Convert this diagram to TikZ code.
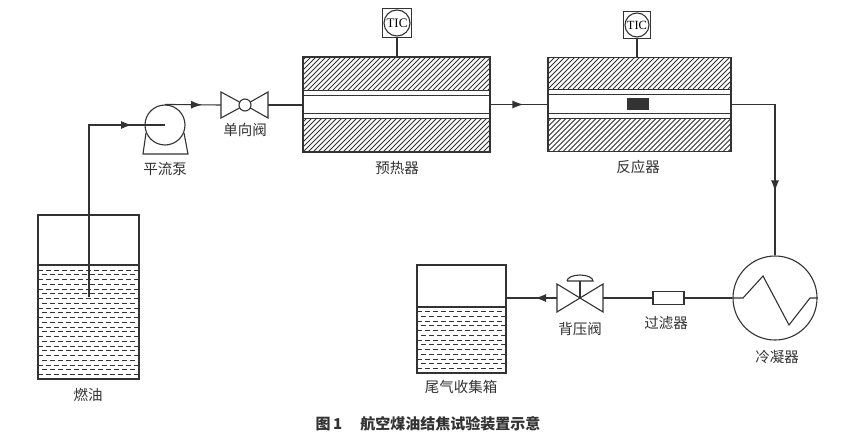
\documentclass[tikz,border=0pt]{standalone}
\usepackage{fontspec}
\newfontfamily\cjk{Noto Sans CJK SC}
\setmainfont{Liberation Serif}
\usetikzlibrary{arrows.meta,decorations.markings,calc}
\definecolor{ink}{HTML}{333333}
\tikzset{
  ln/.style={draw=ink,line width=1.1pt},
  hatch/.style={draw=ink,line width=0.8pt},
  lbl/.style={font=\cjk\fontsize{14.5}{14.5}\selectfont,text=ink,inner sep=0pt},
  arr at/.style={postaction={decorate},decoration={markings,mark=at position #1 with {\arrow[ink]{Latex[length=11pt,width=8pt]}}}},
  dashrow/.style={draw=ink,line width=1pt,dash pattern=on 5pt off 3pt}
}
\newcommand\hatchbox[4]{%
  \begin{scope}
    \clip (#1,#2) rectangle (#3,#4);
    \foreach \i in {0,5,...,260} \draw[hatch] ({#1-50+\i},#4) -- ++(50,-50);
  \end{scope}}
\begin{document}
\begin{tikzpicture}[x=1pt,y=-1pt]
\useasboundingbox[fill=white] (0,0) rectangle (853,444);

% ---------- fuel tank ----------
\node[ln,minimum width=101pt,minimum height=164pt,inner sep=0pt] (fuel) at (88.5,297) {};
\begin{scope}
  \clip (38.5,265) rectangle (138.5,378.5);
  \foreach \k in {0,...,22} {
    \pgfmathsetmacro\yy{270+\k*4.75}
    \pgfmathsetmacro\ph{mod(\k,2)*4}
    \draw[dashrow,dash phase=\ph pt] (38,\yy) -- (139,\yy);
  }
\end{scope}
\draw[ln] (38,265) -- (139,265);
\node[lbl] at (88,395) {燃油};
\coordinate (fuelin) at (89,297);

% ---------- pump ----------
\node[ln,circle,minimum size=40pt,inner sep=0pt,fill=white] (pump) at (165,125) {};
\draw[ln] ($(pump)+(-19,8)$) -- ($(pump)+(-22,29)$) -- ($(pump)+(23,29)$) -- ($(pump)+(19,8)$);
\node[lbl] at (165,169) {平流泵};

% ---------- check valve ----------
\coordinate (cv) at (245,105);
\coordinate (cvL) at (221,105);
\coordinate (cvR) at (268,105);
\draw[ln] (221,92) -- (221,118) -- (cv) -- cycle;
\draw[ln] (268,92) -- (268,118) -- (cv) -- cycle;
\node[ln,circle,fill=white,minimum size=12pt,inner sep=0pt] at (cv) {};
\node[lbl] at (245,130) {单向阀};

% ---------- preheater ----------
\node[ln,minimum width=187pt,minimum height=95pt,inner sep=0pt] (pre) at (396.5,104.5) {};
\hatchbox{303}{57}{490}{90}
\hatchbox{303}{118}{490}{152}
\draw[ln] (303,57) rectangle (490,152);
\draw[ln,line width=0.9pt] (303,90) -- (490,90) (303,95) -- (490,95) (303,113) -- (490,113) (303,118) -- (490,118);
\node[lbl] at (397,168) {预热器};
\node[ln,minimum size=29pt,inner sep=0pt] (tic1) at (397,23) {};
\node[ln,circle,minimum size=26pt,inner sep=0pt,font=\fontsize{13}{13}\selectfont] at (tic1) {TIC};
\draw[ln] (tic1.south) -- (pre.north -| tic1.south);

% ---------- reactor ----------
\node[ln,minimum width=183pt,minimum height=94pt,inner sep=0pt] (rea) at (639.5,104.5) {};
\hatchbox{548}{57.5}{731}{89}
\hatchbox{548}{118}{731}{151.5}
\draw[ln] (548,57.5) rectangle (731,151.5);
\draw[ln,line width=0.9pt] (548,89) -- (731,89) (548,94) -- (731,94) (548,113) -- (731,113) (548,118) -- (731,118);
\node[fill=ink,minimum width=22pt,minimum height=12pt,inner sep=0pt] (cat) at (638,104) {};
\node[lbl] at (638,167) {反应器};
\node[ln,minimum size=27pt,inner sep=0pt] (tic2) at (637,25) {};
\node[ln,circle,minimum size=24pt,inner sep=0pt,font=\fontsize{12.5}{12.5}\selectfont] at (tic2) {TIC};
\draw[ln] (tic2.south) -- (rea.north -| tic2.south);

% ---------- condenser ----------
\node[ln,circle,minimum size=84pt,inner sep=0pt] (cond) at (775,298) {};
\draw[ln] (cond.west) -- (743,298) -- (763,276) -- (789,325) -- (810,298) -- (cond.east);
\node[lbl] at (777,357) {冷凝器};

% ---------- filter ----------
\node[ln,minimum width=31pt,minimum height=13pt,inner sep=0pt] (filt) at (668.5,298) {};
\node[lbl] at (666,323) {过滤器};

% ---------- back pressure valve ----------
\coordinate (bpv) at (580,298);
\coordinate (bpvL) at (557,298);
\coordinate (bpvR) at (603,298);
\draw[ln] (557,284) -- (557,312) -- (bpv) -- cycle;
\draw[ln] (603,284) -- (603,312) -- (bpv) -- cycle;
\draw[ln] (bpv) -- (580,281);
\draw[ln] (567,281) -- (593,281) arc[start angle=0,end angle=180,x radius=13pt,y radius=6pt];
\node[lbl] at (580,329) {背压阀};

% ---------- collection tank ----------
\node[ln,minimum width=89pt,minimum height=108pt,inner sep=0pt] (coll) at (461.5,319) {};
\begin{scope}
  \clip (417.5,307) rectangle (505.5,372.5);
  \foreach \k in {0,...,13} {
    \pgfmathsetmacro\yy{311.5+\k*4.75}
    \pgfmathsetmacro\ph{mod(\k,2)*4}
    \draw[dashrow,dash phase=\ph pt] (417,\yy) -- (506,\yy);
  }
\end{scope}
\draw[ln] (417,307) -- (506,307);
\node[lbl] at (461,387) {尾气收集箱};

% ---------- flow lines ----------
\draw[ln,arr at=-33pt] (fuelin) |- (pump.center);
\draw[ln,arr at=-19pt] (pump.north) -- (cvL);
\draw[ln] (cvR) -- (pre.west |- cvR);
\draw[ln,arr at=-24pt] (pre.east) -- (rea.west);
\draw[ln,arr at=-64pt] (rea.east) -| (cond.north);
\draw[ln] (cond.west) -- (filt.east);
\draw[ln] (filt.west) -- (bpvR);
\draw[ln,arr at=22pt] (bpvL) -- (coll.east |- bpvL);

% ---------- caption ----------
\node[font=\cjk\bfseries\fontsize{15}{15}\selectfont,text=ink,inner sep=0pt] (cap) at (428,424) {图\,1\hspace{1.2em}航空煤油结焦试验装置示意};
\end{tikzpicture}
\end{document}
